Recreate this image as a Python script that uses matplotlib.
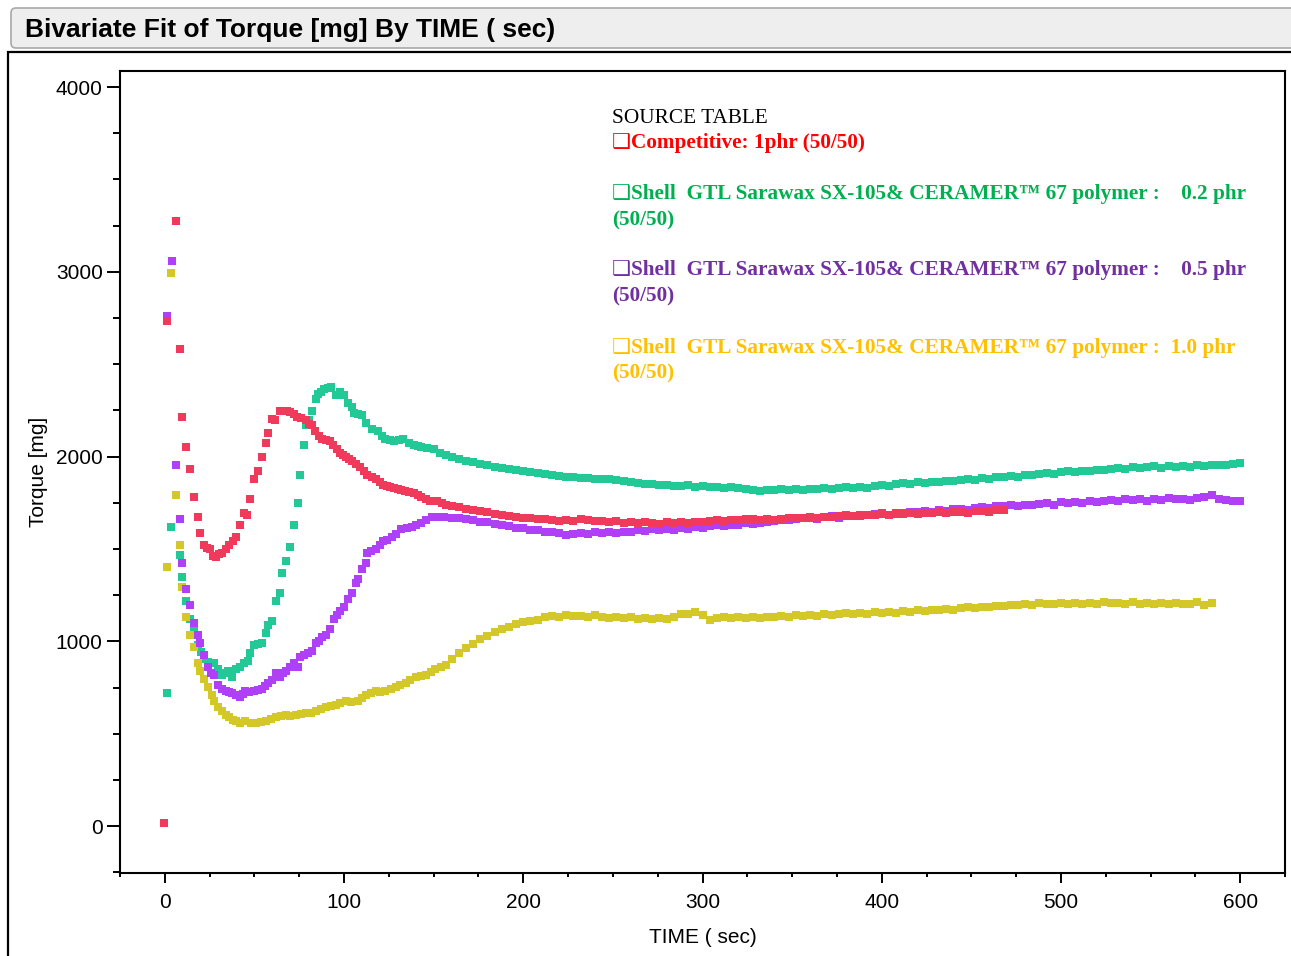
import matplotlib
matplotlib.use("Agg")
from matplotlib import pyplot as plt
from matplotlib.patches import FancyBboxPatch, Rectangle
from matplotlib.ticker import MultipleLocator
from matplotlib.transforms import IdentityTransform

W, H = 1291, 956

# --- data ----------------------------------------------------------------
# start-up part, each series has its own sample times (sec) and torque (mg)
red_t = [-0.5, 1.5, 6.1, 8.2, 9.4, 11.7, 13.9, 16.2, 18.4, 19.5, 21.8, 23.5, 25.0, 27.0,
         28.8, 30.5, 31.8, 34, 36, 38, 39.6, 41.8, 44, 46, 47.4, 49.6, 51.9, 54, 56.3,
         57.4, 59.7, 61.5, 64, 66, 68, 70, 72, 74, 76, 78.6, 80.5, 82, 84, 86, 87.6, 90,
         92, 94, 96, 97.6, 99.5, 101, 103, 104.5, 106.5, 108.8, 111, 113, 115.5, 117.7,
         120, 122, 124, 125.5, 128, 130, 132, 134, 136.5, 139, 141, 143, 145.5, 148, 150,
         152, 154.5, 157]
red_v = [15, 2733, 3275, 2582, 2214, 2050, 1932, 1781, 1673, 1586, 1521, 1505, 1499, 1462,
         1456, 1470, 1478, 1500, 1521, 1545, 1564, 1629, 1694, 1683, 1770, 1878, 1921, 1997,
         2073, 2127, 2203, 2200, 2246, 2246, 2246, 2240, 2230, 2214, 2210, 2197, 2175, 2170,
         2138, 2110, 2095, 2090, 2084, 2062, 2040, 2019, 2008, 1997, 1985, 1976, 1960, 1943,
         1920, 1900, 1890, 1878, 1862, 1846, 1840, 1835, 1830, 1824, 1818, 1813, 1808, 1802,
         1790, 1781, 1770, 1759, 1760, 1759, 1748, 1738]

green_t = [1.0, 3.7, 8.2, 9.5, 11.7, 13.9, 16.2, 18.4, 20, 21.8, 24, 27.3, 29.5, 31.8, 33.5,
           35, 37.4, 39.6, 41.8, 44, 46.3, 47.4, 49.6, 52, 54, 56.3, 57.4, 59.7, 61.9, 64,
           65.3, 67.5, 69.7, 71.9, 74.2, 75.3, 77.5, 78.6, 80.5, 82, 84.2, 85.3, 87, 88.7,
           91, 93, 95.4, 97.6, 99.8, 102, 104.3, 105.4, 108, 110, 112, 115.4, 118.8, 121,
           123, 125.5, 127.7, 130.5, 133, 136, 139, 141, 143, 146.5, 150, 153.5, 157]
green_v = [720, 1618, 1467, 1348, 1218, 1120, 1055, 980, 940, 904, 890, 882, 850, 817, 830,
           839, 806, 850, 861, 882, 893, 936, 980, 985, 990, 1045, 1088, 1110, 1218, 1261,
           1369, 1434, 1510, 1629, 1748, 1900, 2062, 2170, 2200, 2246, 2311, 2338, 2350, 2365,
           2372, 2376, 2333, 2349, 2333, 2290, 2268, 2235, 2230, 2225, 2181, 2149, 2138, 2110,
           2095, 2090, 2084, 2090, 2095, 2075, 2062, 2055, 2051, 2045, 2041, 2020, 2008]

purple_t = [1.5, 3.9, 6.1, 8.4, 9.5, 11.7, 13.9, 16.2, 18.4, 19.5, 21.8, 24, 25.5, 27.3, 29.6,
            31.8, 34, 36, 37.4, 39.5, 41.8, 43.5, 45, 47, 49.6, 52, 54, 56, 57.4, 60, 61.9,
            64, 66, 67.5, 70, 71.9, 74.2, 75.3, 77.5, 80, 82, 84.2, 86, 87.6, 89.8, 92, 94.3,
            96, 97.6, 99.8, 102, 104.3, 106.5, 108, 110, 112, 113, 115, 117.7, 120, 122, 124,
            126.6, 129, 132, 135, 137.8, 140, 143, 146, 149, 152, 155.6]
purple_v = [2760, 3058, 1954, 1662, 1424, 1283, 1196, 1099, 1034, 990, 926, 861, 830, 817, 763,
            742, 730, 725, 720, 712, 698, 715, 731, 728, 731, 738, 742, 760, 774, 790, 828,
            806, 830, 839, 860, 882, 861, 915, 926, 935, 947, 990, 1000, 1023, 1034, 1066, 1120,
            1140, 1164, 1185, 1229, 1261, 1315, 1340, 1391, 1424, 1478, 1490, 1499, 1520, 1543,
            1550, 1564, 1580, 1608, 1612, 1618, 1630, 1640, 1655, 1673, 1675, 1673]

yellow_t = [1.5, 3.7, 6.1, 8.3, 9.5, 11.7, 13.9, 16.2, 18.4, 19.5, 21.8, 24, 26.2, 27.3, 29.6,
            31.8, 34, 36, 38, 39.6, 42, 45, 48, 50.8, 53.5, 56.3, 59, 61.9, 65, 67.5, 70, 73,
            76, 78.6, 81.5, 84.2, 87, 89.8, 92.5, 95.4, 98, 101, 104, 107.6, 110, 112, 115,
            117.7, 120, 123, 126, 128.8, 131.5, 134.4, 137, 140, 143, 145.6, 148.5, 151, 154,
            156.7]
yellow_v = [1404, 2995, 1792, 1521, 1294, 1131, 1034, 969, 882, 839, 796, 752, 709, 677, 644,
            622, 600, 590, 575, 568, 560, 568, 560, 558, 562, 568, 580, 590, 595, 601, 598, 601,
            606, 612, 610, 622, 635, 644, 650, 655, 665, 677, 672, 677, 695, 709, 718, 731, 724,
            731, 742, 752, 765, 774, 790, 806, 812, 817, 835, 850, 862, 871]

# steady part, common sample times (sec)
T_LATE = [160, 164, 168, 172, 176, 180, 184, 188, 192, 196,
          200, 204, 208, 212, 216, 220, 224, 228, 232, 236,
          240, 244, 248, 252, 256, 260, 264, 268, 272, 276,
          280, 284, 288, 292, 296, 300, 304, 308, 312, 316,
          320, 324, 328, 332, 336, 340, 344, 348, 352, 356,
          360, 364, 368, 372, 376, 380, 384, 388, 392, 396,
          400, 404, 408, 412, 416, 420, 424, 428, 432, 436,
          440, 444, 448, 452, 456, 460, 464, 468, 472, 476,
          480, 484, 488, 492, 496, 500, 504, 508, 512, 516,
          520, 524, 528, 532, 536, 540, 544, 548, 552, 556,
          560, 564, 568, 572, 576, 580, 584, 588, 592, 596,
          600]

red_late = [1735, 1728, 1718, 1712, 1703, 1698, 1690, 1686, 1680, 1675,
            1670, 1666, 1660, 1662, 1655, 1650, 1656, 1652, 1660, 1655,
            1650, 1652, 1646, 1650, 1642, 1646, 1640, 1644, 1640, 1636,
            1645, 1640, 1646, 1640, 1648, 1645, 1652, 1655, 1650, 1658,
            1656, 1662, 1660, 1655, 1662, 1658, 1660, 1666, 1670, 1666,
            1672, 1668, 1675, 1672, 1678, 1676, 1680, 1676, 1684, 1682,
            1688, 1684, 1690, 1688, 1693, 1690, 1696, 1694, 1698, 1692,
            1700, 1702, 1696, 1704, 1706, 1700, 1710, 1712]

green_late = [1995, 1985, 1975, 1968, 1958, 1955, 1945, 1940, 1932, 1928,
              1922, 1915, 1910, 1904, 1900, 1895, 1890, 1892, 1886, 1882,
              1880, 1876, 1878, 1872, 1866, 1862, 1856, 1852, 1850, 1846,
              1848, 1842, 1840, 1844, 1838, 1840, 1834, 1836, 1832, 1836,
              1828, 1826, 1820, 1815, 1820, 1818, 1822, 1818, 1824, 1820,
              1826, 1822, 1828, 1824, 1830, 1834, 1830, 1836, 1832, 1840,
              1844, 1840, 1850, 1855, 1852, 1860, 1858, 1864, 1862, 1870,
              1866, 1874, 1878, 1874, 1884, 1880, 1890, 1888, 1896, 1892,
              1900, 1898, 1908, 1912, 1908, 1916, 1920, 1914, 1924, 1920,
              1930, 1926, 1934, 1938, 1932, 1942, 1938, 1944, 1948, 1940,
              1950, 1946, 1950, 1944, 1952, 1948, 1954, 1952, 1956, 1960,
              1966]

purple_late = [1668, 1665, 1660, 1655, 1648, 1644, 1636, 1630, 1622, 1615,
               1612, 1604, 1600, 1594, 1590, 1584, 1575, 1580, 1586, 1580,
               1590, 1584, 1592, 1588, 1594, 1590, 1600, 1596, 1606, 1600,
               1610, 1604, 1616, 1610, 1620, 1614, 1624, 1628, 1622, 1632,
               1630, 1638, 1636, 1642, 1646, 1652, 1658, 1655, 1662, 1665,
               1668, 1664, 1672, 1676, 1670, 1682, 1678, 1686, 1682, 1688,
               1692, 1686, 1696, 1694, 1700, 1698, 1704, 1700, 1710, 1706,
               1714, 1718, 1712, 1722, 1726, 1720, 1732, 1730, 1736, 1732,
               1740, 1736, 1744, 1746, 1740, 1752, 1748, 1756, 1750, 1760,
               1756, 1762, 1766, 1760, 1768, 1764, 1770, 1762, 1772, 1766,
               1774, 1768, 1770, 1766, 1776, 1780, 1792, 1772, 1765, 1762,
               1760]

yellow_late = [905, 935, 962, 985, 1010, 1030, 1048, 1064, 1078, 1095,
               1102, 1112, 1118, 1130, 1136, 1132, 1140, 1135, 1138, 1132,
               1140, 1134, 1128, 1132, 1126, 1130, 1120, 1124, 1120, 1126,
               1122, 1130, 1146, 1150, 1158, 1140, 1118, 1124, 1130, 1126,
               1132, 1128, 1132, 1128, 1134, 1130, 1136, 1134, 1140, 1136,
               1142, 1138, 1146, 1142, 1150, 1152, 1148, 1154, 1150, 1158,
               1156, 1160, 1156, 1164, 1160, 1168, 1166, 1172, 1168, 1176,
               1172, 1180, 1184, 1178, 1188, 1184, 1192, 1190, 1198, 1194,
               1202, 1198, 1206, 1204, 1200, 1208, 1204, 1210, 1202, 1208,
               1204, 1212, 1206, 1210, 1204, 1214, 1200, 1208, 1204, 1206,
               1202, 1208, 1204, 1200, 1212, 1196, 1206]

legend_lines = [
    ("SOURCE TABLE", "black", "normal"),
    ("\u2751Competitive: 1phr (50/50)", "#ff0000", "bold"),
    ("", None, None),
    ("\u2751Shell  GTL Sarawax SX-105& CERAMER\u2122 67 polymer :    0.2 phr", "#00b050", "bold"),
    ("(50/50)", "#00b050", "bold"),
    ("\u2751Shell  GTL Sarawax SX-105& CERAMER\u2122 67 polymer :    0.5 phr", "#7030a0", "bold"),
    ("(50/50)", "#7030a0", "bold"),
    ("\u2751Shell  GTL Sarawax SX-105& CERAMER\u2122 67 polymer :  1.0 phr", "#ffc000", "bold"),
    ("(50/50)", "#ffc000", "bold"),
]
legend_base = [123, 148, None, 199, 225, 275, 301, 353, 378]


def main() -> None:
    plt.rcParams['font.family'] = ['Liberation Sans', 'DejaVu Sans']

    fig = plt.figure(figsize=(W / 100, H / 100), dpi=100)
    px = IdentityTransform()

    # report title bar and outer frame (JMP style)
    bar = FancyBboxPatch((11, H - 48), 1300, 40, boxstyle="round,pad=0,rounding_size=5",
                         transform=px, fc="#eeeeee", ec="#a8a8a8", lw=1.2)
    fig.add_artist(bar)
    frame = Rectangle((8, -20), 1310, H - 52 + 20, transform=px, fc="none", ec="black", lw=1.6)
    fig.add_artist(frame)
    fig.text(25, H - 37, "Bivariate Fit of Torque [mg] By TIME ( sec)", transform=px,
             fontsize=19, fontweight="bold", va="baseline", ha="left")

    ax = fig.add_axes([120 / W, (H - 873) / H, 1165 / W, 802 / H])

    series = [
        (green_t, green_v, green_late, "#22c895"),
        (yellow_t, yellow_v, yellow_late, "#d4c828"),
        (purple_t, purple_v, purple_late, "#b040f8"),
        (red_t, red_v, red_late, "#f03a5c"),
    ]
    for t0, v0, late, col in series:
        t = t0 + T_LATE[:len(late)]
        v = v0 + late
        ax.plot(t, v, linestyle="none", marker="s", markersize=5.3, markeredgewidth=0, color=col)

    ax.set_xlim(-25, 625)
    ax.set_ylim(-254, 4087)
    ax.xaxis.set_major_locator(MultipleLocator(100))
    ax.xaxis.set_minor_locator(MultipleLocator(25))
    ax.yaxis.set_major_locator(MultipleLocator(1000))
    ax.yaxis.set_minor_locator(MultipleLocator(250))
    ax.tick_params(axis="x", which="major", length=7.5, width=1.4, labelsize=15, pad=7)
    ax.tick_params(axis="x", which="minor", length=3, width=1.4)
    ax.tick_params(axis="y", which="major", length=9.5, width=1.4, labelsize=15, pad=3)
    ax.tick_params(axis="y", which="minor", length=5, width=1.4)
    for sp in ax.spines.values():
        sp.set_linewidth(1.5)

    ax.set_xlabel("TIME ( sec)", fontsize=15)
    ax.set_ylabel("Torque [mg]", fontsize=15)
    ax.xaxis.set_label_coords(0.5, -0.068)
    ax.yaxis.set_label_coords(-0.062, 0.5)

    for (txt, col, wt), yb in zip(legend_lines, legend_base):
        if yb is None:
            continue
        fig.text(612, H - yb, txt, transform=px, color=col, fontweight=wt, fontsize=15.3,
                 family=["Liberation Serif", "DejaVu Sans"], va="baseline", ha="left")

    fig.savefig("out.png", dpi=100)


if __name__ == "__main__":
    main()
